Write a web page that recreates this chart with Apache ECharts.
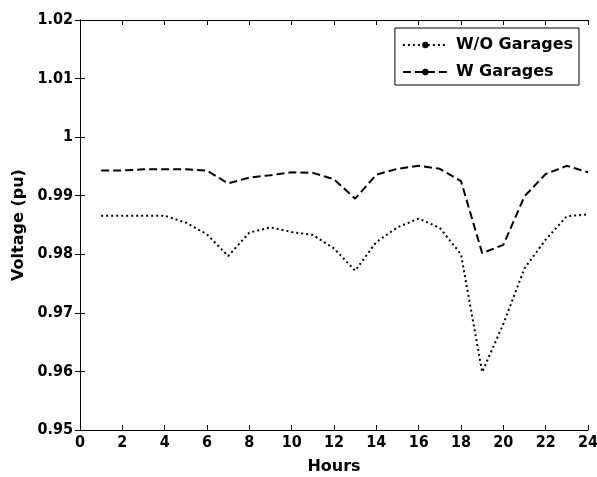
<!DOCTYPE html>
<html>
<head>
<meta charset="utf-8">
<script src="https://cdn.jsdelivr.net/npm/echarts@6/dist/echarts.min.js"></script>
<style>
  html, body { margin: 0; padding: 0; background: #fff; }
  #chart { width: 597px; height: 477px; }
</style>
</head>
<body>
<div id="chart"></div>
<script>
// 数据
const hours = [1,2,3,4,5,6,7,8,9,10,11,12,13,14,15,16,17,18,19,20,21,22,23,24];
const withoutGarages = [0.9866,0.9866,0.9866,0.9866,0.9854,0.9834,0.9797,0.9837,0.9846,0.9838,0.9833,0.9810,
                        0.9772,0.9821,0.9846,0.9861,0.9845,0.9800,0.9599,0.9681,0.9776,0.9825,0.9865,0.9868];
const withGarages = [0.9943,0.9943,0.9945,0.9945,0.9945,0.9943,0.9921,0.9931,0.9935,0.9940,0.9939,0.9928,
                     0.9895,0.9936,0.9946,0.9951,0.9946,0.9925,0.9802,0.9816,0.9899,0.9937,0.9951,0.9940];
const yTicks = [0.95,0.96,0.97,0.98,0.99,1,1.01,1.02];

const pairs = (ys) => hours.map((h, i) => [h, ys[i]]);

const chart = echarts.init(document.getElementById('chart'));
const boxAxis = {
    axisLine: { show: true, lineStyle: { color: '#000', width: 1 } },
    axisTick: { show: true, inside: true, length: 5, lineStyle: { color: '#000' } },
    splitLine: { show: false }
};
// 刻度用窄体，标题和图例用常规粗体
const tickTxt = { fontFamily: '"DejaVu Sans Condensed", "DejaVu Sans"', fontWeight: 'bold', fontSize: 16, color: '#000' };
const txt = { fontFamily: 'DejaVu Sans', fontWeight: 'bold', fontSize: 16, color: '#000' };
const option = {
    animation: false,
    backgroundColor: '#fff',
    grid: { left: 80, right: 9, top: 20, bottom: 47, outerBoundsMode: 'none', containLabel: false },
    legend: {
        right: 18, top: 28,
        orient: 'vertical',
        backgroundColor: '#fff',
        borderColor: '#000', borderWidth: 1,
        padding: [9, 6, 5, 7],
        itemGap: 11,
        itemWidth: 45, itemHeight: 8,
        textStyle: Object.assign({ padding: [0, 0, 0, 3] }, txt),
        data: ['W/O Garages', 'W Garages']
    },
    xAxis: [
        Object.assign({
            type: 'value', min: 0, max: 24, interval: 2,
            name: 'Hours', nameLocation: 'middle', nameGap: 29,
            nameTextStyle: txt,
            axisLabel: Object.assign({ margin: 5 }, tickTxt)
        }, boxAxis),
        Object.assign({
            type: 'value', min: 0, max: 24, interval: 2, position: 'top',
            axisLabel: { show: false }
        }, boxAxis)
    ],
    yAxis: [
        Object.assign({
            type: 'value', min: 0.95, max: 1.02, interval: 0.01,
            name: 'Voltage (pu)', nameLocation: 'middle', nameGap: 52,
            nameTextStyle: txt,
            axisLabel: Object.assign({
                margin: 7,
                formatter: (v) => {
                    const t = yTicks.find(k => Math.abs(k - v) < 1e-6);
                    return t === undefined ? '' : String(t);
                }
            }, tickTxt)
        }, boxAxis),
        Object.assign({
            type: 'value', min: 0.95, max: 1.02, interval: 0.01, position: 'right',
            axisLabel: { show: false }
        }, boxAxis)
    ],
    series: [
        {
            name: 'W/O Garages',
            type: 'line',
            data: pairs(withoutGarages),
            symbol: 'circle', symbolSize: 5, showSymbol: false,
            itemStyle: { color: '#000' },
            lineStyle: { color: '#000', width: 2, type: [2, 3] }
        },
        {
            name: 'W Garages',
            type: 'line',
            data: pairs(withGarages),
            symbol: 'circle', symbolSize: 5, showSymbol: false,
            itemStyle: { color: '#000' },
            lineStyle: { color: '#000', width: 2, type: [8, 4] }
        }
    ]
};
chart.setOption(option);
</script>
</body>
</html>
